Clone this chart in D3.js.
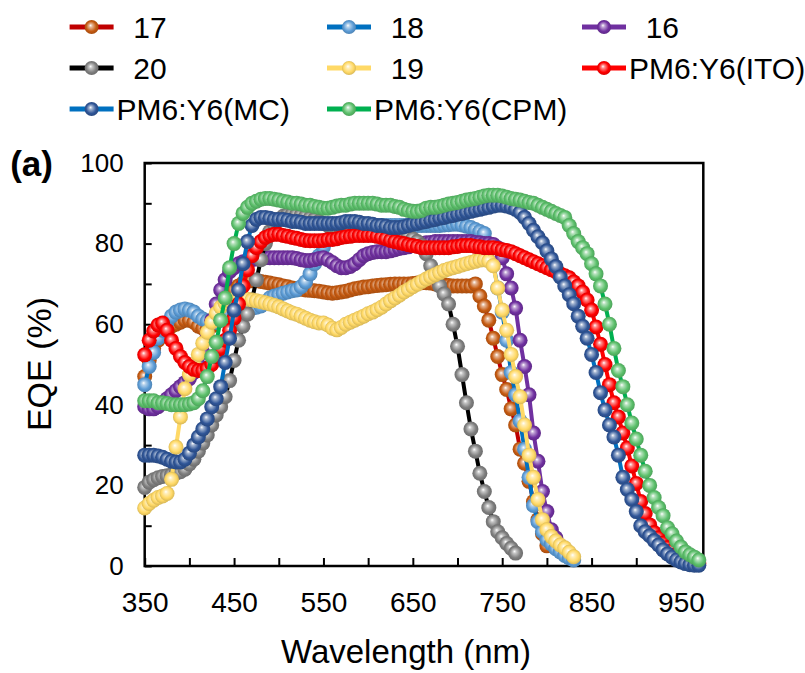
<!DOCTYPE html>
<html>
<head>
<meta charset="utf-8">
<script src="https://cdn.jsdelivr.net/npm/d3@7"></script>
<style>
  html, body { margin: 0; padding: 0; background: #ffffff; }
  svg { display: block; }
  text { font-family: "Liberation Sans", Arial, Helvetica, sans-serif; fill: #000; }
</style>
</head>
<body>
<svg id="chart" width="805" height="673"></svg>
<script>
// ---------------- DATA ----------------
const wavelength = [
  350,355,360,365,370,375,380,385,390,395,
  400,405,410,415,420,425,430,435,440,445,
  450,455,460,465,470,475,480,485,490,495,
  500,505,510,515,520,525,530,535,540,545,
  550,555,560,565,570,575,580,585,590,595,
  600,605,610,615,620,625,630,635,640,645,
  650,655,660,665,670,675,680,685,690,695,
  700,705,710,715,720,725,730,735,740,745,
  750,755,760,765,770,775,780,785,790,795,
  800,805,810,815,820,825,830,835,840,845,
  850,855,860,865,870,875,880,885,890,895,
  900,905,910,915,920,925,930,935,940,945,
  950,955,960,965,970
];

const s17 = [
  47,51,54,56,57.5,58.5,59.5,60,60.5,61,
  61,60.5,59.5,59,59,59.5,61,63,65,67,
  68.5,69.5,70.2,70.6,70.8,70.8,70.6,70.4,70.2,70,
  69.8,69.5,69.3,69,68.8,68.7,68.5,68.4,68.3,68.2,
  68,67.8,67.7,67.8,68,68.2,68.5,68.8,69,69.2,
  69.3,69.5,69.6,69.7,69.8,69.9,70,70,70,70,
  70.1,70.2,70.3,70.3,70.2,70,69.8,69.7,69.6,69.5,
  69.5,69.5,69.5,69.5,70,67,64.5,61,56.5,52,
  47.5,43.8,39,35,29,25.5,21,16,11.5,8,
  5
];
const s18 = [
  45,49.5,53,56.5,58.5,60.5,62,63,63.5,63.8,
  63.5,63,62,61.3,60.8,60.5,60.5,61,61.5,62,
  62.5,63,63.3,63.7,64,64.2,64.5,65.5,66.5,67,
  67.3,67.7,68,68.3,68.5,69.3,70.5,72.5,75,77,
  79.2,81,82,82.7,83.2,83.5,83.8,84,84.2,84.3,
  84.5,84.5,84.5,84.5,84.5,84.5,84.5,84.5,84.5,84.5,
  84.5,84.5,84.5,84.5,84.5,84.5,84.5,84.6,84.7,84.8,
  84.8,84.6,84.3,84,83.5,83,82.5,79.5,75,69,
  63,56,48,42.5,36,29,22,15,11,8.5,
  6.5,5.5,4.3,3.5,2.6,2,1.5
];
const s16 = [
  39.5,39,39,39.5,40.5,41.5,42.5,43.5,44.5,45.5,
  46.5,48,50,53,57,61,65,68.5,71,73,
  74,75,75.5,75.8,76,76.2,76.3,76.5,76.5,76.5,
  76.5,76.5,76.5,76.5,76.3,76,75.8,75.8,76,76.3,
  76.5,76,75.3,74.5,74,74,74.3,75,76,77,
  77.5,77.8,78,78,78,78.2,78.5,78.8,79,79.2,
  79.5,79.7,80,80.2,80.3,80.5,80.5,80.5,80.5,80.5,
  80.5,80.5,80.5,80.5,80.3,80.2,80,80,79.8,79,
  76.5,72.5,69,64,56,49.5,42.5,33,26,18.5,
  13.5,9,7
];
const s20 = [
  19.5,20.8,21.4,21.9,22.2,22.4,22.6,23,23.4,24,
  25.3,26.5,28.5,30.5,32.5,35,37.5,39.5,42,46,
  51,56,59.5,62.5,66,71,76,80,83,84.8,
  86,86.8,87.2,87.3,87.2,87,86.7,86.3,86,85.5,
  85,84.5,84.2,83.8,83.5,83.3,83,83,83,83,
  83,83,83,83,83,82.8,82.5,82.3,82,81.7,
  81.2,80.5,79.5,77.5,74.5,72,69.5,67.5,65,60,
  54.5,47.5,40.5,34,28.5,23,18.5,14.5,11,8.5,
  7,5.6,4.4,3.2
];
const s19 = [
  14.4,15.5,16.3,17,17.4,18,21.5,29.5,37,44,
  47.5,50,52.5,55.3,58,60.5,62.7,64.2,65.2,65.8,
  66.2,66.3,66.3,66.2,66,65.8,65.6,65.3,65,64.7,
  64.3,63.8,63.3,62.8,62.5,62,61.5,61,60.6,60.3,
  60.3,59.8,59,58.6,59.2,60,60.5,61,61.5,62,
  62.6,63,63.6,64.2,65,65.8,66.5,67.2,68,68.6,
  69.3,69.9,70.6,71.2,71.8,72.3,72.8,73.3,73.7,74,
  74.3,74.7,75,75.3,75.6,75.9,76,75.7,74.5,69,
  63.5,58.5,52.5,47,42,35,27.5,22,16.5,11.5,
  9,7.3,6.2,5.2,4.5,3.4,2.3
];
const sITO = [
  52.4,56,58.3,59.8,60.3,58.5,56,54,52,50.5,
  49.5,48.8,48.5,48.5,49,50,52,54,56,58.5,
  61.5,65,69.5,73.5,77,79,80.5,81.5,82,82.3,
  82.3,82,81.8,81.5,81.3,81,80.8,80.7,80.7,80.7,
  80.8,81,81,81.2,81.5,81.7,81.8,82,82,82,
  82,82,81.8,81.5,81.2,80.8,80.5,80.2,80,79.7,
  79.5,79.3,79,79,79,79,79,79,79,79.2,
  79.3,79.5,79.5,79.5,79.3,79.2,79,79,79,78.8,
  78.5,78.3,78,77.5,77,76.5,76,75.5,75,74.5,
  74,73.5,73,72.5,72,71.5,70.5,69.5,68,66,
  63.5,59.3,55,50,45,40.5,37,33,29.3,24.8,
  20.5,16,13,10.2,8.3,7,5.7,4.6,3.8,2.9,
  2.2,1.6,1.1,0.8,0.6
];
const sMC = [
  27.5,27.5,27.5,27.3,27,26.5,26,25.8,25.8,26.5,
  28,30,32,34,36.5,39.5,41.5,44.5,50.5,56.5,
  63.5,68.5,75,80.5,84.5,86,86.5,86.5,86.3,86,
  86,86,85.8,85.5,85.5,85.3,85,85,85,85,
  85,85,85,85,85.2,85.5,85.5,85.5,85.3,85,
  85,84.8,84.5,84.5,84.3,84,84,84,84.2,84.5,
  84.8,85,85.3,85.5,85.8,86,86.3,86.5,86.8,87,
  87.3,87.5,87.8,88,88.3,88.5,88.8,89,89.3,89.5,
  89.5,89.3,89,88.5,87.7,86.5,85,83.3,81.7,80.2,
  78.2,76.2,74.3,71.7,69.5,67.3,65.1,62,59.5,56.5,
  52.5,48,43,38.7,35,32,27.5,22,19,16.5,
  13.5,10,8.5,7.5,6.3,5.2,4,3,2.2,1.5,
  1,0.6,0.3,0.2,0.2
];
const sCPM = [
  41,41,41,40.5,40.5,40.3,40,40,40,40,
  40.2,40.5,41.5,43.5,47,52,55.5,61,66.5,74,
  80,85,87.5,89,90,90.5,91,91.2,91.2,91,
  90.8,90.5,90.3,90,90,89.8,89.5,89.5,89.2,89,
  88.8,88.8,89,89.3,89.5,89.5,89.8,90,90,90,
  90,90,89.8,89.5,89.5,89.5,89.2,89,88.5,88.2,
  88,88,88.2,88.8,89,89,89.2,89.5,89.8,90,
  90.2,90.5,90.8,91,91.2,91.5,91.8,92,92,92,
  91.8,91.5,91.2,91,90.8,90.5,90.2,90,89.5,89,
  88.5,88,87.5,87,86.5,84.5,82.5,80.5,79,77.5,
  75,72.5,69.5,65,60,54,48.5,44.5,40,35.5,
  31.5,27.5,23.5,20,17,14.5,12.5,9.5,8,6.2,
  4.7,3.5,2.8,2.2,1.5
];

const seriesNames  = ["17", "18", "16", "20", "19", "PM6:Y6(ITO)", "PM6:Y6(MC)", "PM6:Y6(CPM)"];
const seriesValues = [s17, s18, s16, s20, s19, sITO, sMC, sCPM];
const lineColors   = ["#C00000", "#0070C0", "#7030A0", "#000000", "#FFD966", "#FF0000", "#0070C0", "#00B050"];
const markerColors = ["#C55A11", "#5B9BD5", "#7030A0", "#7F7F7F", "#FFD966", "#FF0000", "#2F5597", "#5BBF6A"];
const legendLabels = ["  17", "  18", "  16", "  20", "  19", "PM6:Y6(ITO)", "PM6:Y6(MC)", "PM6:Y6(CPM)"];

const xTicks = [350, 400, 450, 500, 550, 600, 650, 700, 750, 800, 850, 900, 950];
const xLabelTicks = [350, 450, 550, 650, 750, 850, 950];
const yTicks = [0, 10, 20, 30, 40, 50, 60, 70, 80, 90, 100];
const yLabelTicks = [0, 20, 40, 60, 80, 100];

// ---------------- LAYOUT ----------------
const svg = d3.select("#chart");
const plot = { left: 144.7, right: 703.3, top: 163, bottom: 566 };

const x = d3.scaleLinear().domain([350, 975]).range([plot.left, plot.right]);
const y = d3.scaleLinear().domain([0, 100]).range([plot.bottom, plot.top]);

// gradients for 3D spheres
const defs = svg.append("defs");
markerColors.forEach((c, i) => {
  const g = defs.append("radialGradient")
    .attr("id", "grad" + i)
    .attr("cx", "50%").attr("cy", "50%").attr("r", "55%")
    .attr("fx", "42%").attr("fy", "38%");
  g.append("stop").attr("offset", "0%").attr("stop-color", "#ffffff");
  g.append("stop").attr("offset", "22%").attr("stop-color", d3.interpolateRgb(c, "#ffffff")(0.55));
  g.append("stop").attr("offset", "65%").attr("stop-color", c);
  g.append("stop").attr("offset", "100%").attr("stop-color", d3.color(c).darker(0.6).formatHex());
});

// axes (ticks inside)
const xAxis = d3.axisBottom(x)
  .tickValues(xTicks)
  .tickSize(-8)
  .tickPadding(26)
  .tickFormat(d => xLabelTicks.includes(d) ? String(d) : "");
const gx = svg.append("g")
  .attr("transform", `translate(0,${plot.bottom})`)
  .call(xAxis);
gx.select(".domain").remove();
gx.selectAll(".tick line").attr("stroke", "#000").attr("stroke-width", 2);
gx.selectAll(".tick text").attr("font-size", 28).attr("font-family", '"Liberation Sans", Arial, sans-serif');

const yAxis = d3.axisLeft(y)
  .tickValues(yTicks)
  .tickSize(-7)
  .tickPadding(21)
  .tickFormat(d => yLabelTicks.includes(d) ? String(d) : "");
const gy = svg.append("g")
  .attr("transform", `translate(${plot.left},0)`)
  .call(yAxis);
gy.select(".domain").remove();
gy.selectAll(".tick line").attr("stroke", "#000").attr("stroke-width", 2);
gy.selectAll(".tick text").attr("font-size", 26).attr("font-family", '"Liberation Sans", Arial, sans-serif');

// frame
svg.append("rect")
  .attr("x", plot.left).attr("y", plot.top)
  .attr("width", plot.right - plot.left).attr("height", plot.bottom - plot.top)
  .attr("fill", "none").attr("stroke", "#000").attr("stroke-width", 2.5);

// series
const R = 7.5;
seriesValues.forEach((vals, i) => {
  const pts = vals.map((v, j) => [wavelength[j], v]);
  const line = d3.line().x(d => x(d[0])).y(d => y(d[1]));
  const g = svg.append("g").attr("class", "series");
  g.append("path")
    .attr("d", line(pts))
    .attr("fill", "none")
    .attr("stroke", lineColors[i])
    .attr("stroke-width", 4)
    .attr("stroke-linejoin", "round");
  g.selectAll("circle").data(pts).enter().append("circle")
    .attr("cx", d => x(d[0]))
    .attr("cy", d => y(d[1]))
    .attr("r", R)
    .attr("fill", `url(#grad${i})`);
});

// legend
const legCols = [69.6, 327, 582];
const legRows = [27, 68, 109];
const legLineLen = 44;
seriesNames.forEach((name, i) => {
  const col = i % 3, row = Math.floor(i / 3);
  const lx = legCols[col], ly = legRows[row];
  const g = svg.append("g");
  g.append("line")
    .attr("x1", lx).attr("x2", lx + legLineLen)
    .attr("y1", ly).attr("y2", ly)
    .attr("stroke", lineColors[i]).attr("stroke-width", 5);
  g.append("circle")
    .attr("cx", lx + legLineLen / 2).attr("cy", ly).attr("r", 7)
    .attr("fill", `url(#grad${i})`);
  g.append("text")
    .attr("x", lx + legLineLen + 3).attr("y", ly)
    .attr("dominant-baseline", "central")
    .attr("font-size", 30)
    .style("white-space", "pre")
    .attr("xml:space", "preserve")
    .text(legendLabels[i]);
});

// axis titles
svg.append("text")
  .attr("x", 406).attr("y", 663)
  .attr("text-anchor", "middle")
  .attr("font-size", 33)
  .text("Wavelength (nm)");
svg.append("text")
  .attr("transform", "translate(51,364) rotate(-90)")
  .attr("text-anchor", "middle")
  .attr("font-size", 34)
  .text("EQE (%)");

// panel label
svg.append("text")
  .attr("x", 53).attr("y", 176)
  .attr("text-anchor", "end")
  .attr("font-size", 35)
  .attr("font-weight", "bold")
  .text("(a)");
</script>
</body>
</html>
